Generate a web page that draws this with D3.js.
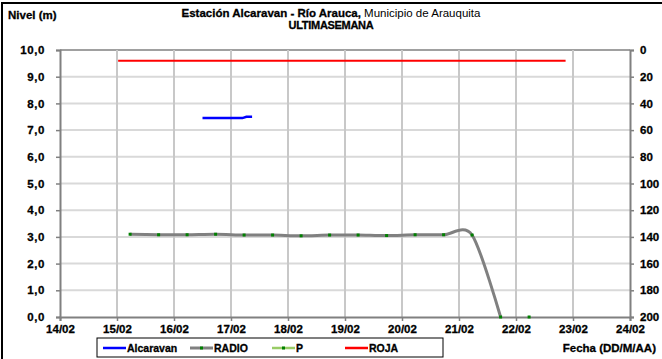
<!DOCTYPE html>
<html>
<head>
<meta charset="utf-8">
<script src="https://cdn.jsdelivr.net/npm/d3@7"></script>
<style>
  body { margin: 0; background: #fff; }
  svg { display: block; font-family: "Liberation Sans", Arial, sans-serif; }
  .heavy { stroke: #000; stroke-width: 0.3px; }
</style>
</head>
<body>
<div class="chart-container"></div>
<script>
// data (x = day of February)
const dayTicks = [14, 15, 16, 17, 18, 19, 20, 21, 22, 23, 24];
const levelTicks = [0, 1, 2, 3, 4, 5, 6, 7, 8, 9, 10];
const rightTicks = [0, 20, 40, 60, 80, 100, 120, 140, 160, 180, 200];

const alcaravanX = [16.5, 17.2, 17.27, 17.37];
const alcaravanY = [7.45, 7.45, 7.5, 7.5];

const radioX = [15.23, 15.73, 16.23, 16.73, 17.23, 17.73, 18.23, 18.73, 19.23, 19.73, 20.23, 20.73, 21.23, 21.73];
const radioY = [3.1, 3.08, 3.08, 3.1, 3.07, 3.07, 3.04, 3.07, 3.07, 3.05, 3.08, 3.08, 3.07, 0];

const pX = [22.23];
const pY = [0];

const rojaX = [15.02, 22.87];
const rojaY = [9.6, 9.6];

const legendNames = ['Alcaravan', 'RADIO', 'P', 'ROJA'];

const W = 662, H = 359;
const margin = {l: 60, r: 32, t: 50, b: 42};
const w = W - margin.l - margin.r;
const h = H - margin.t - margin.b;
const FONT = '"Liberation Sans", Arial, sans-serif';

const svg = d3.select('.chart-container').append('svg')
    .attr('width', W)
    .attr('height', H);

// outer frame (only top and left visible)
svg.append('path')
    .attr('d', `M2,${H} L2,3 L${W},3`)
    .attr('fill', 'none')
    .attr('stroke', '#000')
    .attr('stroke-width', 2);

const x = d3.scaleLinear().domain([14, 24]).range([0, w]);
const y = d3.scaleLinear().domain([0, 10]).range([h, 0]);
const y2 = d3.scaleLinear().domain([0, 200]).range([0, h]);

const g = svg.append('g').attr('transform', `translate(${margin.l},${margin.t})`);

// grid
g.selectAll('.hgrid').data(levelTicks.slice(1)).enter().append('line')
    .attr('x1', 0).attr('x2', w)
    .attr('y1', d => y(d)).attr('y2', d => y(d))
    .attr('stroke', d => d === 10 ? '#a0a0a0' : '#d9d9d9')
    .attr('stroke-width', 2);
g.selectAll('.vgrid').data(dayTicks.slice(1, -1)).enter().append('line')
    .attr('x1', d => x(d)).attr('x2', d => x(d))
    .attr('y1', 0).attr('y2', h)
    .attr('stroke', '#c8c8c8')
    .attr('stroke-width', 2);

// axes
const fmtLevel = d => d.toFixed(1).replace('.', ',');
const fmtDay = d => String(d).padStart(2, '0') + '/02';

const axisL = g.append('g')
    .call(d3.axisLeft(y).tickValues(levelTicks).tickFormat(fmtLevel).tickSize(4).tickPadding(11));
const axisB = g.append('g').attr('transform', `translate(0,${h})`)
    .call(d3.axisBottom(x).tickValues(dayTicks).tickFormat(fmtDay).tickSize(4).tickPadding(4));
const axisR = g.append('g').attr('transform', `translate(${w},0)`)
    .call(d3.axisRight(y2).tickValues(rightTicks).tickSize(4).tickPadding(6));

[axisL, axisB, axisR].forEach(a => {
    a.attr('font-family', FONT);
    a.select('.domain').attr('stroke', '#808080').attr('stroke-width', 2);
    a.selectAll('.tick line').attr('stroke', '#808080').attr('stroke-width', 1.5);
    a.selectAll('text')
        .attr('fill', '#000')
        .attr('class', 'heavy')
        .style('font-family', FONT)
        .style('font-size', '11.5px')
        .style('font-weight', 'bold');
});
axisL.selectAll('text').style('letter-spacing', '0.6px');
axisR.selectAll('text').attr('text-anchor', 'start');

// series
const lineOf = (xs, ys) => d3.line()
    .x((d, i) => x(xs[i]))
    .y(d => y(d));

g.append('path')
    .attr('d', lineOf(rojaX, rojaY)(rojaY))
    .attr('fill', 'none')
    .attr('stroke', '#ff0000')
    .attr('stroke-width', 2);

g.append('path')
    .attr('d', lineOf(alcaravanX, alcaravanY)(alcaravanY))
    .attr('fill', 'none')
    .attr('stroke', '#0000ff')
    .attr('stroke-width', 2.5);

g.append('path')
    .attr('d', lineOf(radioX, radioY).curve(d3.curveCardinal.tension(0.15))(radioY))
    .attr('fill', 'none')
    .attr('stroke', '#808080')
    .attr('stroke-width', 3);

g.selectAll('.radio-pt').data(radioY).enter().append('rect')
    .attr('x', (d, i) => x(radioX[i]) - 1.5)
    .attr('y', d => y(d) - 1.5)
    .attr('width', 3).attr('height', 3)
    .attr('fill', '#008000');

g.selectAll('.p-pt').data(pY).enter().append('rect')
    .attr('x', (d, i) => x(pX[i]) - 1.5)
    .attr('y', d => y(d) - 1.5)
    .attr('width', 3).attr('height', 3)
    .attr('fill', '#008000');

// titles
const title = svg.append('text')
    .attr('x', 331).attr('y', 17)
    .attr('text-anchor', 'middle')
    .style('font-size', '11.5px');
title.append('tspan').attr('class', 'heavy').style('font-weight', 'bold').text('Estación Alcaravan - Río Arauca,');
title.append('tspan').text(' Municipio de Arauquita');

svg.append('text')
    .attr('class', 'heavy')
    .attr('x', 331).attr('y', 29)
    .attr('text-anchor', 'middle')
    .style('font-size', '11px')
    .style('font-weight', 'bold')
    .style('letter-spacing', '-0.3px')
    .text('ULTIMASEMANA');

svg.append('text')
    .attr('class', 'heavy')
    .attr('x', 8).attr('y', 19)
    .style('font-size', '11.5px')
    .style('font-weight', 'bold')
    .text('Nivel (m)');

svg.append('text')
    .attr('class', 'heavy')
    .attr('x', 656).attr('y', 352)
    .attr('text-anchor', 'end')
    .style('font-size', '11.5px')
    .style('font-weight', 'bold')
    .text('Fecha (DD/M/AA)');

// legend
const leg = svg.append('g').attr('transform', 'translate(97,338)');
leg.append('rect')
    .attr('width', 346).attr('height', 19)
    .attr('fill', '#fff')
    .attr('stroke', '#000')
    .attr('stroke-width', 1);

const legStyles = [
    {stroke: '#0000ff', marker: false},
    {stroke: '#808080', marker: true},
    {stroke: '#99cc66', marker: true},
    {stroke: '#ff0000', marker: false}
];
const legOffsets = [6, 93, 175, 248];

const items = leg.selectAll('.item').data(legendNames).enter().append('g')
    .attr('transform', (d, i) => `translate(${legOffsets[i]},10)`);
items.append('line')
    .attr('x1', 0).attr('x2', 23)
    .attr('stroke', (d, i) => legStyles[i].stroke)
    .attr('stroke-width', (d, i) => i === 1 ? 3 : 2.5);
items.filter((d, i) => legStyles[i].marker).append('rect')
    .attr('x', 10).attr('y', -1.5).attr('width', 3).attr('height', 3)
    .attr('fill', '#008000');
items.append('text')
    .attr('class', 'heavy')
    .attr('x', 24).attr('y', 4)
    .style('font-size', '10.5px')
    .style('font-weight', 'bold')
    .text(d => d);
</script>
</body>
</html>
